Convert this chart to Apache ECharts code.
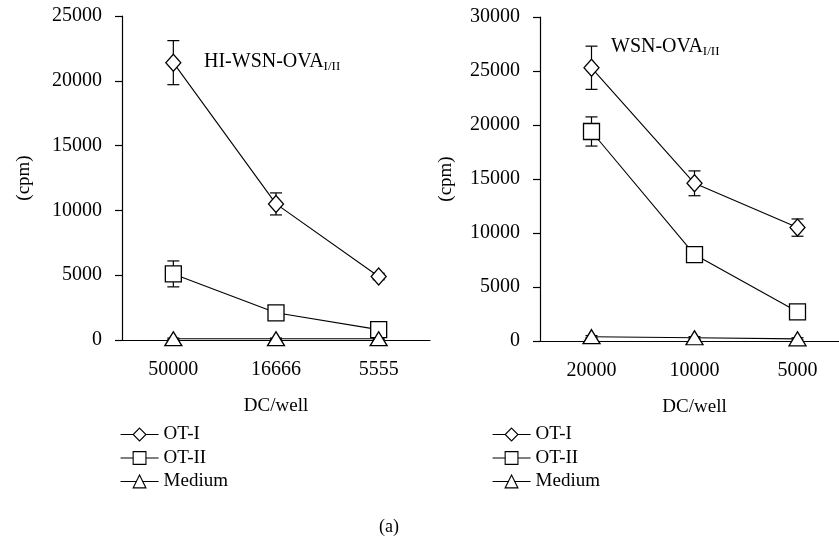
<!DOCTYPE html>
<html>
<head>
<meta charset="utf-8">
<script src="https://cdn.jsdelivr.net/npm/echarts@6/dist/echarts.min.js"></script>
<style>
html, body { margin: 0; padding: 0; background: #fff; }
#container { width: 839px; height: 541px; }
</style>
</head>
<body>
<div id="container"></div>
<script>
var dom = document.getElementById("container");
var myChart = echarts.init(dom);

// left panel: HI-WSN-OVA I/II
var leftCats = ['50000', '16666', '5555'];
var leftOT1 = [21400, 10500, 4900];
var leftOT1Err = [1700, 850, 250];
var leftOT2 = [5100, 2100, 800];
var leftOT2Err = [1000, 300, 150];
var leftMed = [100, 100, 100];
var leftMedErr = [50, 50, 50];

// right panel: WSN-OVA I/II
var rightCats = ['20000', '10000', '5000'];
var rightOT1 = [25300, 14600, 10500];
var rightOT1Err = [2000, 1150, 800];
var rightOT2 = [19400, 8000, 2700];
var rightOT2Err = [1350, 500, 300];
var rightMed = [400, 300, 200];
var rightMedErr = [100, 100, 100];

var seriesNames = ['OT-I', 'OT-II', 'Medium'];
var font = 'Liberation Serif';

function errData(vals, errs) {
    return vals.map(function (v, i) { return [i, v - errs[i], v + errs[i]]; });
}

function renderErr(params, api) {
    var x = api.value(0);
    var lo = api.coord([x, api.value(1)]);
    var hi = api.coord([x, api.value(2)]);
    var w = 6;
    var st = { stroke: '#000', lineWidth: 1.2 };
    return {
        type: 'group',
        children: [
            { type: 'line', shape: { x1: lo[0], y1: lo[1], x2: hi[0], y2: hi[1] }, style: st },
            { type: 'line', shape: { x1: hi[0] - w, y1: hi[1], x2: hi[0] + w, y2: hi[1] }, style: st },
            { type: 'line', shape: { x1: lo[0] - w, y1: lo[1], x2: lo[0] + w, y2: lo[1] }, style: st }
        ]
    };
}

function lineSeries(name, data, symbol, size, idx) {
    return {
        name: name,
        type: 'line',
        xAxisIndex: idx,
        yAxisIndex: idx,
        data: data,
        symbol: symbol,
        symbolSize: size,
        clip: false,
        z: 3,
        lineStyle: { color: '#000', width: 1.1 },
        itemStyle: { color: '#fff', borderColor: '#000', borderWidth: 1.3 }
    };
}

function errSeries(data, idx) {
    return {
        type: 'custom',
        xAxisIndex: idx,
        yAxisIndex: idx,
        renderItem: renderErr,
        encode: { x: 0, y: [1, 2] },
        data: data,
        clip: false,
        z: 1
    };
}

function xAxisOpt(idx, cats) {
    return {
        type: 'category',
        gridIndex: idx,
        data: cats,
        boundaryGap: true,
        axisLine: { lineStyle: { color: '#000', width: 1.2 } },
        axisTick: { length: 7, lineStyle: { color: '#000', width: 1.2 } },
        axisLabel: { color: '#000', fontFamily: font, fontSize: 20, margin: 20 },
        name: 'DC/well',
        nameLocation: 'middle',
        nameGap: 57,
        nameTextStyle: { color: '#000', fontFamily: font, fontSize: 19 }
    };
}

function yAxisOpt(idx, max, gap) {
    return {
        type: 'value',
        gridIndex: idx,
        min: 0,
        max: max,
        interval: 5000,
        splitLine: { show: false },
        axisLine: { show: true, lineStyle: { color: '#000', width: 1.2 } },
        axisTick: { show: true, length: 7, lineStyle: { color: '#000', width: 1.2 } },
        axisLabel: {
            color: '#000', fontFamily: font, fontSize: 20, margin: 20,
            formatter: function (v) { return String(v); }
        },
        name: '(cpm)',
        nameLocation: 'middle',
        nameGap: gap,
        nameTextStyle: { color: '#000', fontFamily: font, fontSize: 19 }
    };
}

function legendOpt(left) {
    return {
        orient: 'vertical',
        left: left,
        top: 420,
        itemWidth: 38,
        itemHeight: 16,
        itemGap: 4.5,
        data: seriesNames,
        itemStyle: { borderWidth: 1.1 },
        lineStyle: { width: 1.1 },
        textStyle: { color: '#000', fontFamily: font, fontSize: 19 }
    };
}

option = {
    backgroundColor: '#fff',
    animation: false,
    grid: [
        { left: 122, top: 16, width: 308, height: 324, outerBoundsMode: 'none' },
        { left: 540, top: 17, width: 309, height: 324, outerBoundsMode: 'none' }
    ],
    xAxis: [xAxisOpt(0, leftCats), xAxisOpt(1, rightCats)],
    yAxis: [yAxisOpt(0, 25000, 88), yAxisOpt(1, 30000, 84)],
    legend: [legendOpt(115), legendOpt(487)],
    graphic: [
        {
            type: 'text', left: 204, top: 52,
            style: {
                text: 'HI-WSN-OVA{s|I/II}',
                fill: '#000', fontFamily: font, fontSize: 20,
                rich: { s: { fontSize: 13, fontFamily: font, fill: '#000', padding: [9, 0, 0, 0] } }
            }
        },
        {
            type: 'text', left: 611, top: 37,
            style: {
                text: 'WSN-OVA{s|I/II}',
                fill: '#000', fontFamily: font, fontSize: 20,
                rich: { s: { fontSize: 13, fontFamily: font, fill: '#000', padding: [9, 0, 0, 0] } }
            }
        },
        {
            type: 'text', left: 379, top: 518,
            style: { text: '(a)', fill: '#000', fontFamily: font, fontSize: 18 }
        }
    ],
    series: [
        errSeries(errData(leftOT1, leftOT1Err), 0),
        errSeries(errData(leftOT2, leftOT2Err), 0),
        errSeries(errData(leftMed, leftMedErr), 0),
        lineSeries('OT-I', leftOT1, 'diamond', [15, 17], 0),
        lineSeries('OT-II', leftOT2, 'rect', 16, 0),
        lineSeries('Medium', leftMed, 'triangle', [17, 14], 0),
        errSeries(errData(rightOT1, rightOT1Err), 1),
        errSeries(errData(rightOT2, rightOT2Err), 1),
        errSeries(errData(rightMed, rightMedErr), 1),
        lineSeries('OT-I', rightOT1, 'diamond', [15, 17], 1),
        lineSeries('OT-II', rightOT2, 'rect', 16, 1),
        lineSeries('Medium', rightMed, 'triangle', [17, 14], 1)
    ]
};
if (option && typeof option === "object") {
    myChart.setOption(option, true);
}
</script>
</body>
</html>
